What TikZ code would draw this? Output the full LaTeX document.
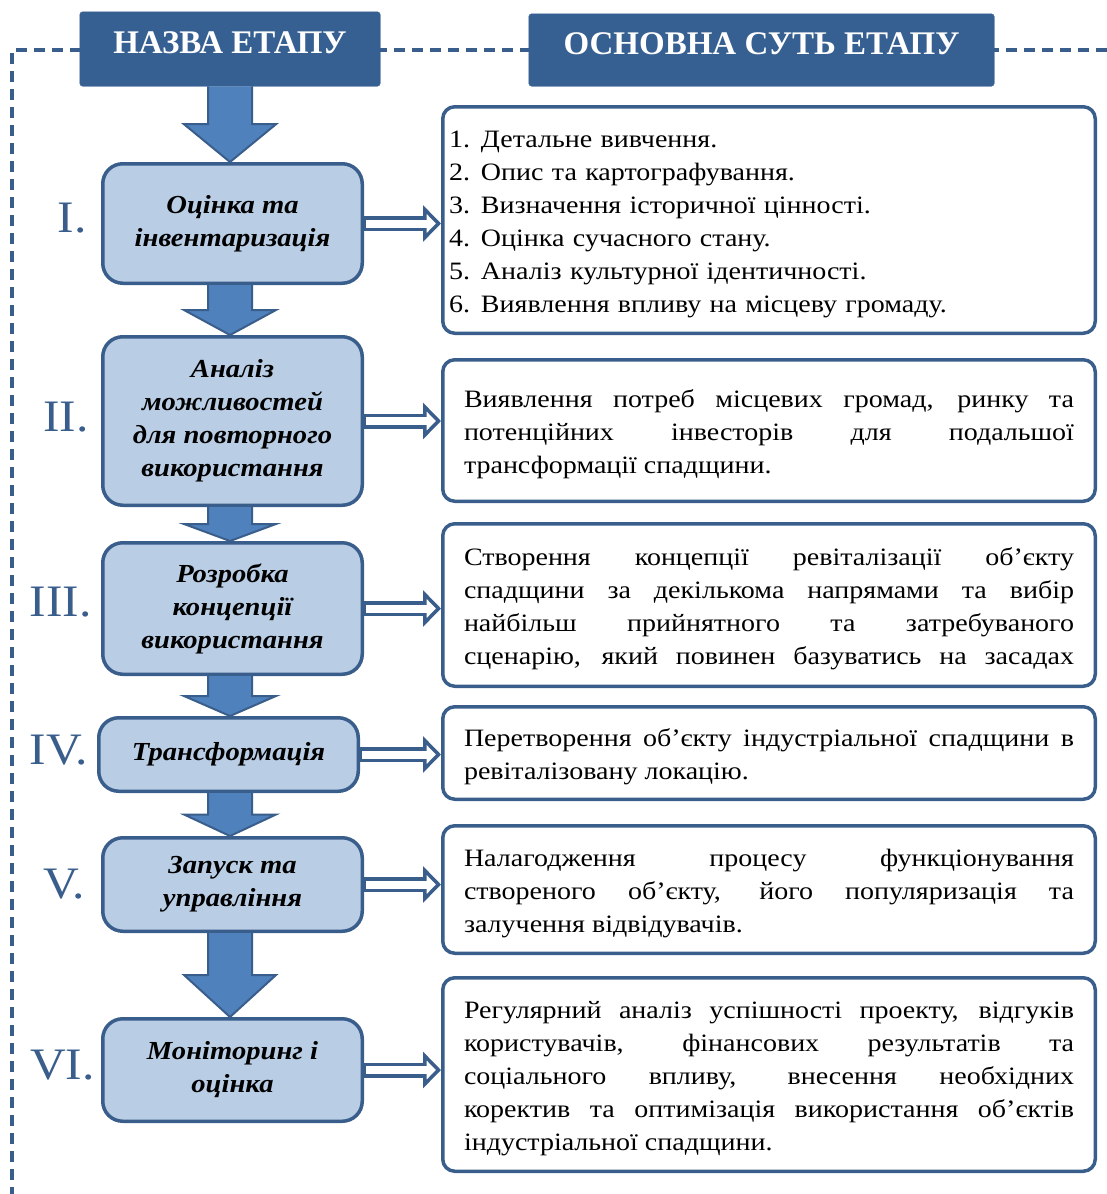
\documentclass[tikz,border=0pt]{standalone}
\usepackage{fontspec}
\setmainfont{Liberation Serif}
\newfontfamily\wideserif[FakeStretch=1.12]{Liberation Serif}
\newfontfamily\stageserif[FakeStretch=1.1]{Liberation Serif}
\usepackage{tikz}
\usetikzlibrary{arrows.meta, decorations.markings, positioning, calc}
\definecolor{hdrBlue}{RGB}{55,96,146}
\definecolor{lineBlue}{RGB}{58,94,140}
\definecolor{arrBlue}{RGB}{79,129,189}
\definecolor{boxBlue}{RGB}{185,205,229}
\hyphenpenalty=10000
\exhyphenpenalty=10000
\tolerance=10000
\tikzstyle{header} = [draw=hdrBlue, fill=hdrBlue, rounded corners=3pt,
   text=white, text depth=12pt, font=\fontsize{33}{36}\selectfont\bfseries]
\tikzstyle{stage} = [draw=lineBlue, line width=3.5pt, fill=boxBlue,
   rounded corners=20pt, minimum width=259.5pt, align=center,
   font=\stageserif\fontsize{26}{33}\selectfont\bfseries\itshape]
\tikzstyle{desc} = [draw=lineBlue, line width=3.5pt, fill=white,
   rounded corners=12pt, minimum width=652.5pt,
   font=\wideserif\fontsize{25}{33}\selectfont]
\tikzstyle{roman} = [text=lineBlue, inner sep=0pt,
   font=\stageserif\fontsize{45}{45}\selectfont]
\tikzstyle{blockArrow} = [draw=lineBlue, fill=arrBlue, line width=2pt]
\tikzstyle{frameLine} = [draw=lineBlue, line width=3.5pt,
   dash pattern=on 11pt off 7pt]
\tikzstyle{vecArrow} = [draw=lineBlue, line width=15pt, shorten >= 17pt,
   decoration={markings,mark=at position 1 with
   {\arrow[lineBlue]{Triangle[open, length=18pt, width=36pt, line width=3.5pt]}}},
   preaction = {decorate},
   postaction = {draw, white, line width=8pt, shorten <= 2pt, shorten >= 12pt}]

\begin{document}
\begin{tikzpicture}[x=1pt, y=-1pt]
  \useasboundingbox (0,0) rectangle (1107,1194);
  \coordinate (col) at (230,0);
  \coordinate (fTop) at (1107,50);
  \coordinate (fBottom) at (12,1194);

  % stages
  \node[stage, minimum height=119.5pt] (s1) at (232.5,223.5) {Оцінка та\\інвентаризація};
  \node[stage, minimum height=168.5pt, below=50pt of s1] (s2)
     {Аналіз\\можливостей\\для повторного\\використання};
  \node[stage, minimum height=131.5pt, below=34pt of s2] (s3)
     {Розробка\\концепції\\використання};
  \node[stage, minimum height=73.5pt, below=40pt of s3, xshift=-4pt] (s4) {Трансформація};
  \node[stage, minimum height=93.5pt, below=43pt of s4, xshift=4pt] (s5) {Запуск та\\управління};
  \node[stage, minimum height=102.5pt, below=84pt of s5] (s6) {Моніторинг і\\оцінка};

  % roman numbers
  \node[roman, left=14pt of s1, yshift=5pt] (n1) {I.};
  \node[roman, left=12pt of s2, yshift=4pt] (n2) {II.};
  \node[roman, left=9pt of s3, yshift=6pt] (n3) {III.};
  \node[roman, left=9pt of s4, yshift=4pt] (n4) {IV.};
  \node[roman, left=16pt of s5, yshift=0pt] (n5) {V.};
  \node[roman, left=6pt of s6, yshift=5pt] (n6) {VI.};

  % descriptions
  \node[desc, minimum height=226.5pt, text width=640pt, align=left] (d1) at (769,220)
     {\rule{0pt}{26pt}\makebox[32pt][l]{1.}Детальне вивчення.\\
      \makebox[32pt][l]{2.}Опис та картографування.\\
      \makebox[32pt][l]{3.}Визначення історичної цінності.\\
      \makebox[32pt][l]{4.}Оцінка сучасного стану.\\
      \makebox[32pt][l]{5.}Аналіз культурної ідентичності.\\
      \makebox[32pt][l]{6.}Виявлення впливу на місцеву громаду.};
  \node[desc, minimum height=141.5pt, text width=610pt, align=justify, below=23pt of d1] (d2)
     {\rule{0pt}{26pt}Виявлення потреб місцевих громад, ринку та\linebreak
      потенційних інвесторів для подальшої\linebreak
      трансформації спадщини.};
  \node[desc, minimum height=162.5pt, text width=610pt, align=justify, below=19pt of d2] (d3)
     {\rule{0pt}{26pt}Створення концепції ревіталізації об’єкту\linebreak
      спадщини за декількома напрямами та вибір\linebreak
      найбільш прийнятного та затребуваного\linebreak
      сценарію, який повинен базуватись на засадах\parfillskip=0pt\par};
  \node[desc, minimum height=92.5pt, text width=610pt, align=justify, below=17pt of d3] (d4)
     {\rule{0pt}{26pt}Перетворення об’єкту індустріальної спадщини в\linebreak
      ревіталізовану локацію.};
  \node[desc, minimum height=127.5pt, text width=610pt, align=justify, below=23pt of d4] (d5)
     {\rule{0pt}{26pt}Налагодження процесу функціонування\linebreak
      створеного об’єкту, його популяризація та\linebreak
      залучення відвідувачів.};
  \node[desc, minimum height=193.5pt, text width=610pt, align=justify, below=21pt of d5] (d6)
     {\rule{0pt}{26pt}Регулярний аналіз успішності проекту, відгуків\linebreak
      користувачів, фінансових результатів та\linebreak
      соціального впливу, внесення необхідних\linebreak
      коректив та оптимізація використання об’єктів\linebreak
      індустріальної спадщини.};

  % dashed frame, then headers on top of it
  \draw[frameLine] (fTop) -| (fBottom);
  \node[header, minimum width=300.5pt, minimum height=74.5pt] (hName) at (230,49) {НАЗВА ЕТАПУ};
  \node[header, minimum width=465.5pt, minimum height=72.5pt] (hDesc) at (761.5,50) {ОСНОВНА СУТЬ ЕТАПУ};

  % block arrows down the stages
  \foreach \a/\b in {hName/s1, s1/s2, s2/s3, s3/s4, s4/s5, s5/s6}{
    \coordinate (t) at (\a.south -| col);
    \coordinate (h) at (\b.north -| col);
    \coordinate (m) at ($(t)!0.5!(h)$);
    \draw[blockArrow] ($(t)+(-22,0)$) -- ($(m)+(-22,0)$) -- ($(m)+(-46,0)$) -- (h)
      -- ($(m)+(46,0)$) -- ($(m)+(22,0)$) -- ($(t)+(22,0)$);
  }

  % hollow arrows to the descriptions
  \foreach \i in {1,...,6}
    \draw[vecArrow] (s\i.east) -- (s\i.east -| d\i.west);
\end{tikzpicture}
\end{document}
